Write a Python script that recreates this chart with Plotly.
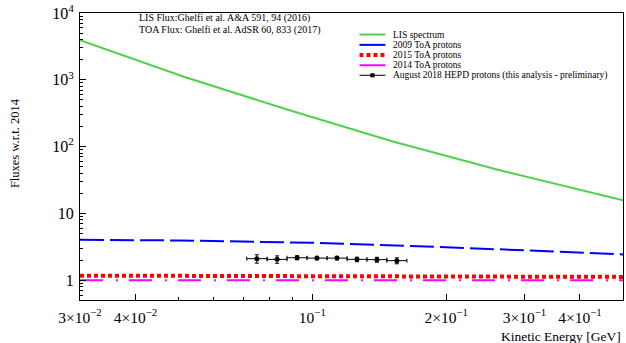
import math
import plotly.graph_objects as go

# ---------------- data ----------------
lis_E = [0.03, 0.0514, 0.0881, 0.151, 0.259, 0.5]
lis_flux = [3900, 1112, 356, 120, 45.7, 15.7]

toa_E = [0.03, 0.05, 0.1, 0.2, 0.5]
toa2009 = [4.03, 3.93, 3.63, 3.12, 2.43]
toa2015 = [1.17, 1.16, 1.15, 1.14, 1.12]
toa2014 = [1.0, 1.0, 1.0, 1.0, 1.0]

hepd_E = [0.0750, 0.0833, 0.0924, 0.1024, 0.1136, 0.1260, 0.1397, 0.1549]
hepd_flux = [2.10, 2.05, 2.17, 2.14, 2.14, 2.05, 2.03, 1.96]
hepd_err = [0.30, 0.26, 0.15, 0.13, 0.13, 0.16, 0.17, 0.20]
hepd_edges = [0.0712, 0.0791, 0.0877, 0.0973, 0.1079, 0.1197, 0.1327, 0.1471, 0.1632]

x_tickvals = [0.03, 0.04, 0.1, 0.2, 0.3, 0.4]
x_ticktext = ["3×10<sup>−2</sup>", "4×10<sup>−2</sup>", "10<sup>−1</sup>",
              "2×10<sup>−1</sup>", "3×10<sup>−1</sup>", "4×10<sup>−1</sup>"]
y_tickvals = [1, 10, 100, 1000, 10000]
y_ticktext = ["1", "10", "10<sup>2</sup>", "10<sup>3</sup>", "10<sup>4</sup>"]

legend_labels = ["LIS spectrum", "2009 ToA protons", "2015 ToA protons",
                 "2014 ToA protons", "August 2018 HEPD protons (this analysis - preliminary)"]

# ---------------- styles ----------------
FONT = "Liberation Serif, Times New Roman, DejaVu Serif, serif"
GREEN = "#4fd14f"
BLUE = "#0000ff"
RED = "#ff0000"
MAGENTA = "#ff00ff"
dash_blue = "24px,6px"
dash_red = "4px,3px"
dash_mag = "23px,13px,2px,11px"

fig = go.Figure()
fig.add_trace(go.Scatter(x=lis_E, y=lis_flux, mode="lines",
                         line=dict(color=GREEN, width=2), showlegend=False))
fig.add_trace(go.Scatter(x=toa_E, y=toa2009, mode="lines",
                         line=dict(color=BLUE, width=2, dash=dash_blue), showlegend=False))
fig.add_trace(go.Scatter(x=toa_E, y=toa2014, mode="lines",
                         line=dict(color=MAGENTA, width=2, dash=dash_mag), showlegend=False))
fig.add_trace(go.Scatter(x=toa_E, y=toa2015, mode="lines",
                         line=dict(color=RED, width=4, dash=dash_red), showlegend=False))

err_plus = [hepd_edges[i + 1] - e for i, e in enumerate(hepd_E)]
err_minus = [e - hepd_edges[i] for i, e in enumerate(hepd_E)]
fig.add_trace(go.Scatter(
    x=hepd_E, y=hepd_flux, mode="markers",
    marker=dict(color="black", size=5, symbol="circle"),
    error_y=dict(type="data", array=hepd_err, color="black", thickness=1, width=2),
    error_x=dict(type="data", array=err_plus, arrayminus=err_minus,
                 color="black", thickness=1, width=2),
    showlegend=False))

# ---------------- manual legend (ROOT style) ----------------
leg_rows = [0.925, 0.889, 0.854, 0.818, 0.783]
leg_styles = [(GREEN, 2, "solid"), (BLUE, 2, "solid"), (RED, 4, dash_red),
              (MAGENTA, 2, "solid"), ("black", 1, "solid")]
lx0, lx1, ltx = 0.5147, 0.5625, 0.5735
shapes = []
annotations = []
for yv, (col, w, d), lab in zip(leg_rows, leg_styles, legend_labels):
    shapes.append(dict(type="line", xref="paper", yref="paper", x0=lx0, x1=lx1,
                       y0=yv, y1=yv, line=dict(color=col, width=w, dash=d)))
    annotations.append(dict(text=lab, xref="paper", yref="paper", x=ltx, y=yv,
                            xanchor="left", yanchor="middle", showarrow=False,
                            font=dict(family=FONT, size=9.5, color="black")))
# marker in HEPD legend sample
xm = (lx0 + lx1) / 2
shapes.append(dict(type="rect", xref="paper", yref="paper",
                   x0=xm - 0.004, x1=xm + 0.004, y0=leg_rows[-1] - 0.007,
                   y1=leg_rows[-1] + 0.007, fillcolor="black", line=dict(width=0)))

annotations += [
    dict(text="LIS Flux:Ghelfi et al. A&A 591, 94 (2016)", xref="paper", yref="paper",
         x=0.1048, y=0.983, xanchor="left", yanchor="middle", showarrow=False,
         font=dict(family=FONT, size=10, color="black")),
    dict(text="TOA Flux: Ghelfi et al. AdSR 60, 833 (2017)", xref="paper", yref="paper",
         x=0.1048, y=0.941, xanchor="left", yanchor="middle", showarrow=False,
         font=dict(family=FONT, size=10, color="black")),
    dict(text="Kinetic Energy [GeV]", xref="paper", yref="paper", x=1.0, y=-0.128,
         xanchor="right", yanchor="middle", showarrow=False,
         font=dict(family=FONT, size=13.5, color="black")),
    dict(text="Fluxes w.r.t. 2014", xref="paper", yref="paper", x=-0.1195, y=0.547,
         xanchor="center", yanchor="middle", textangle=-90, showarrow=False,
         font=dict(family=FONT, size=12.5, color="black")),
]

x_minor = [0.05, 0.06, 0.07, 0.08, 0.09]
y_minor = [m * 10 ** k for k in range(-1, 4) for m in range(2, 10)]

fig.update_layout(
    width=626, height=343,
    margin=dict(l=80, r=2, t=11, b=43),
    paper_bgcolor="white", plot_bgcolor="white",
    font=dict(family=FONT, color="black"),
    shapes=shapes, annotations=annotations,
    xaxis=dict(type="log", range=[math.log10(0.03), math.log10(0.5)],
               tickmode="array", tickvals=x_tickvals, ticktext=x_ticktext,
               ticks="inside", ticklen=6, tickcolor="black", tickwidth=1,
               showline=True, linecolor="black", linewidth=1, mirror=True,
               showgrid=False, zeroline=False, ticklabelstandoff=3,
               ticklabeloverflow="allow",
               tickfont=dict(family=FONT, size=15.5, color="black"),
               minor=dict(tickmode="array", tickvals=x_minor, ticks="inside",
                          ticklen=3, tickcolor="black", showgrid=False)),
    yaxis=dict(type="log", range=[math.log10(0.505), 4],
               tickmode="array", tickvals=y_tickvals, ticktext=y_ticktext,
               ticks="inside", ticklen=6, tickcolor="black", tickwidth=1,
               showline=True, linecolor="black", linewidth=1, mirror=True,
               showgrid=False, zeroline=False, ticklabelstandoff=2,
               ticklabeloverflow="allow",
               tickfont=dict(family=FONT, size=16, color="black"),
               minor=dict(tickmode="array", tickvals=y_minor, ticks="inside",
                          ticklen=3, tickcolor="black", showgrid=False)),
)

fig.write_html("out.html")
